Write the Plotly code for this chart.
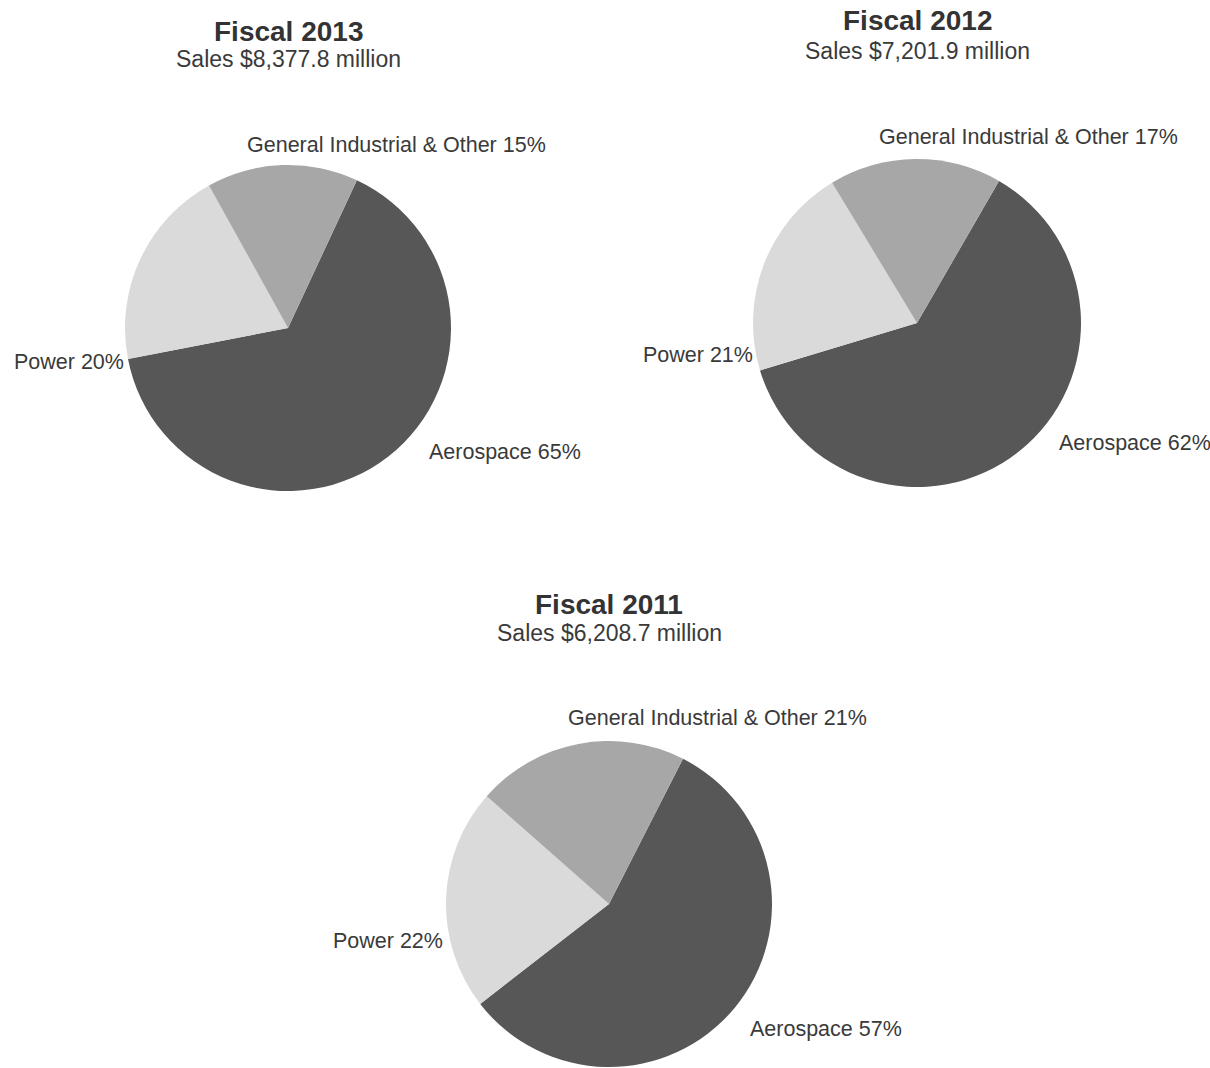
import plotly.graph_objects as go

W, H = 1210, 1068

segments = ["Aerospace", "Power", "General Industrial & Other"]
years = ["Fiscal 2013", "Fiscal 2012", "Fiscal 2011"]
sales = ["$8,377.8", "$7,201.9", "$6,208.7"]
shares_2013 = [65, 20, 15]
shares_2012 = [62, 21, 17]
shares_2011 = [57, 22, 21]
all_shares = [shares_2013, shares_2012, shares_2011]

colors = ["#575757", "#dadada", "#a7a7a7"]
FONT = "Arial, 'Liberation Sans', sans-serif"
TXT = "#3a3a3a"

# layout (pixel) for each pie: center x, center y, radius, rotation
pies = [
    dict(cx=288, cy=328, r=163, rot=25,
         title_y=32, sub_y=59,
         lab=[(427, 452), (12, 362), (245, 145)]),
    dict(cx=917, cy=323, r=164, rot=30,
         title_y=20, sub_y=51,
         lab=[(1057, 443), (641, 355), (877, 137)]),
    dict(cx=609, cy=904, r=163, rot=27,
         title_y=604, sub_y=633,
         lab=[(748, 1029), (331, 941), (566, 718)]),
]

fig = go.Figure()
annotations = []
for p, shares, yr, s in zip(pies, all_shares, years, sales):
    x0 = (p["cx"] - p["r"]) / W
    x1 = (p["cx"] + p["r"]) / W
    y0 = 1 - (p["cy"] + p["r"]) / H
    y1 = 1 - (p["cy"] - p["r"]) / H
    fig.add_trace(go.Pie(
        labels=segments, values=shares,
        sort=False, direction="clockwise", rotation=p["rot"],
        marker=dict(colors=colors, line=dict(width=0)),
        textinfo="none", hoverinfo="label+percent",
        domain=dict(x=[x0, x1], y=[max(0, y0), min(1, y1)]),
        showlegend=False,
    ))
    annotations.append(dict(
        text=f"<b>{yr}</b>", x=p["cx"] / W, y=1 - p["title_y"] / H,
        xref="paper", yref="paper", xanchor="center", yanchor="middle",
        showarrow=False, font=dict(family=FONT, size=28, color="#333333")))
    annotations.append(dict(
        text=f"Sales {s} million", x=p["cx"] / W, y=1 - p["sub_y"] / H,
        xref="paper", yref="paper", xanchor="center", yanchor="middle",
        showarrow=False, font=dict(family=FONT, size=23, color=TXT)))
    for seg, v, (lx, ly) in zip(segments, shares, p["lab"]):
        annotations.append(dict(
            text=f"{seg} {v}%", x=lx / W, y=1 - ly / H,
            xref="paper", yref="paper", xanchor="left", yanchor="middle",
            showarrow=False, font=dict(family=FONT, size=21.5, color=TXT)))

fig.update_layout(
    width=W, height=H,
    margin=dict(l=0, r=0, t=0, b=0),
    paper_bgcolor="white", plot_bgcolor="white",
    annotations=annotations,
)

fig.write_html("out.html", config={"displayModeBar": False},
               post_script="document.body.style.margin='0';document.body.style.overflow='hidden';")
